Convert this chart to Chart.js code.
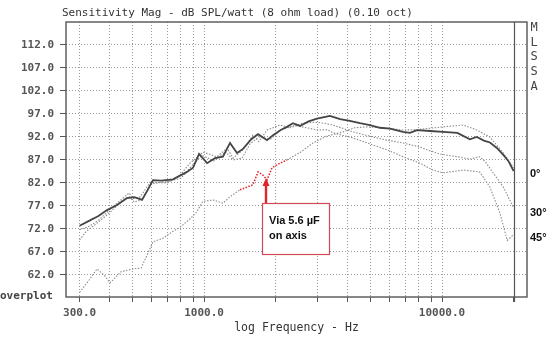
<!DOCTYPE html>
<html>
<head>
<meta charset="utf-8">
<title>Sensitivity Mag</title>
<script src="https://cdn.jsdelivr.net/npm/chart.js@4.4.1/dist/chart.umd.min.js"></script>
<style>
  html, body { margin: 0; padding: 0; background: #fff; }
  #wrap { width: 557px; height: 338px; position: relative; }
</style>
</head>
<body>
<div id="wrap"><canvas id="splChart"></canvas></div>
<script>
// AXES
const gridHz = [300, 400, 500, 600, 700, 800, 900, 1000, 2000, 3000, 4000, 5000,
                6000, 7000, 8000, 9000, 10000, 20000];
const labelHz = [300, 1000, 10000];
const dbTicks = [62, 67, 72, 77, 82, 87, 92, 97, 102, 107, 112];

// 0 deg, on axis (solid)
const axisHz = [300, 330, 360, 391, 431, 475, 510, 549, 580, 610, 660, 741, 848, 899, 953,
                1030, 1112, 1201, 1286, 1376, 1458, 1580, 1686, 1840, 1950, 2100, 2230, 2365,
                2530, 2750, 2985, 3380, 3730, 4100, 4520, 4980, 5490, 6050, 6850, 7330, 7850,
                8930, 10100, 11600, 13100, 14000, 15000, 15900, 17000, 18100, 19000, 20000];
const axisDb = [72.7, 73.8, 74.8, 76.1, 77.2, 78.7, 78.9, 78.3, 80.5, 82.6, 82.5, 82.8, 84.4, 85.3, 88.3,
                86.3, 87.4, 87.7, 90.7, 88.5, 89.4, 91.5, 92.6, 91.3, 92.4, 93.5, 94.2, 95.0,
                94.4, 95.4, 96.0, 96.6, 95.9, 95.5, 95.0, 94.6, 94.0, 93.8, 93.1, 92.9, 93.5,
                93.3, 93.1, 92.9, 91.5, 92.0, 91.2, 90.8, 89.6, 88.1, 86.8, 84.6];

// 30 deg off axis
const off30Hz = [300, 330, 362, 400, 440, 484, 505, 540, 594, 700, 793, 873, 990, 1134, 1250,
                 1324, 1458, 1605, 1700, 1840, 2086, 2300, 2600, 2900, 3200, 3480, 4230, 5130,
                 5880, 6860, 8080, 8650, 9800, 11600, 13100, 14400, 15200, 16400, 18100, 20000];
const off30Db = [71.8, 72.6, 74.0, 76.1, 78.0, 79.8, 78.6, 79.0, 82.2, 82.0, 83.7, 86.3, 88.7, 87.7, 89.6,
                 87.4, 89.2, 92.4, 91.0, 93.5, 94.6, 94.0, 95.0, 95.2, 95.0, 94.6, 93.1, 92.0,
                 91.3, 90.7, 89.8, 89.2, 88.3, 87.7, 87.2, 87.7, 86.6, 84.2, 81.1, 76.6];

// 45 deg off axis
const off45Hz = [300, 320, 350, 380, 420, 460, 484, 510, 550, 600, 700, 800, 880, 980, 1100,
                 1230, 1324, 1445, 1560, 1700, 1900, 2100, 2400, 2700, 3000, 3300, 3480, 4230,
                 4840, 5880, 6860, 8080, 9150, 10100, 10800, 12300, 14400, 15900, 17500, 18800, 20000];
const off45Db = [69.6, 71.5, 73.0, 74.5, 76.5, 78.5, 79.0, 77.8, 78.5, 81.8, 82.3, 83.0, 85.5, 88.0, 86.8,
                 88.8, 87.0, 87.4, 90.5, 92.0, 91.5, 93.5, 94.5, 94.0, 93.5, 93.6, 92.9, 91.8,
                 90.7, 89.2, 87.7, 86.3, 84.8, 84.2, 84.4, 84.8, 84.4, 81.1, 75.5, 69.5, 70.8];

// on axis through the 5.6 uF series cap
const capHz = [300, 330, 355, 380, 403, 448, 503, 544, 582, 610, 673, 741, 785, 865, 925,
               990, 1091, 1202, 1286, 1416, 1500, 1605, 1686, 1760, 1840, 1930, 2086, 2230,
               2530, 2870, 3280, 3840, 4300, 4840, 5500, 6100, 6860, 7850, 8920, 10100,
               12300, 14000, 15900, 18100, 20000];
const capDb = [58.2, 61.0, 63.3, 62.0, 60.3, 62.7, 63.3, 63.5, 66.8, 69.2, 70.0, 71.5, 72.2, 74.0, 75.5,
               78.0, 78.3, 77.6, 79.0, 80.5, 81.0, 81.6, 84.4, 83.8, 82.7, 85.3, 86.3, 87.0,
               88.6, 90.7, 92.2, 93.1, 94.0, 94.2, 94.0, 93.8, 93.5, 93.6, 93.9, 94.2,
               94.6, 93.5, 92.0, 88.5, 85.3];
const capRedFrom = 1416;
const capRedTo = 2230;

const pts = (hz, db) => hz.map((f, i) => ({ x: f, y: db[i] }));

const MONO = "'DejaVu Sans Mono', 'Liberation Mono', monospace";
const SANS = "'Liberation Sans', Arial, sans-serif";
const RED = "#e0262a";
const DOT = "#8c8c8c";

// frame, side labels and the cap call-out
const decor = {
    id: "decor",
    afterDraw(chart) {
        const { ctx, chartArea: a } = chart;
        const x = chart.scales.x;
        ctx.save();

        // frame + 20 kHz line
        ctx.strokeStyle = "#555";
        ctx.lineWidth = 1.4;
        ctx.strokeRect(a.left, a.top, a.right - a.left, a.bottom - a.top);
        const x20k = Math.round(x.getPixelForValue(20000)) + 0.5;
        ctx.lineWidth = 1.2;
        ctx.beginPath();
        ctx.moveTo(x20k, a.top);
        ctx.lineTo(x20k, a.bottom + 5);
        ctx.stroke();

        // title
        ctx.fillStyle = "#333";
        ctx.font = "11px " + MONO;
        ctx.textBaseline = "middle";
        ctx.textAlign = "left";
        ctx.fillText("Sensitivity Mag - dB SPL/watt (8 ohm load) (0.10 oct)", 62, 13);

        // MLSSA down the right side
        ctx.textAlign = "center";
        ctx.font = "12px " + MONO;
        ctx.fillStyle = "#444";
        "MLSSA".split("").forEach((c, i) => ctx.fillText(c, 534, 28 + i * 14.6));

        // overplot tag
        ctx.textAlign = "left";
        ctx.font = "bold 11px " + MONO;
        ctx.fillText("overplot", 0, 296);

        // angle labels
        ctx.fillStyle = "#111";
        ctx.font = "bold 11px " + SANS;
        ctx.fillText("0°", 530, 174);
        ctx.fillText("30°", 530, 213);
        ctx.fillText("45°", 530, 238);

        // call-out box
        ctx.fillStyle = "#fff";
        ctx.fillRect(262, 203, 67, 51);
        ctx.strokeStyle = "#d24a58";
        ctx.lineWidth = 1.2;
        ctx.strokeRect(262.5, 203.5, 67, 51);
        ctx.fillStyle = "#111";
        ctx.font = "bold 11px " + SANS;
        ctx.fillText("Via 5.6 µF", 269, 221);
        ctx.fillText("on axis", 269, 236);

        // arrow up to the cap curve
        ctx.strokeStyle = RED;
        ctx.fillStyle = RED;
        ctx.lineWidth = 2.4;
        ctx.beginPath();
        ctx.moveTo(266, 203);
        ctx.lineTo(266, 185);
        ctx.stroke();
        ctx.beginPath();
        ctx.moveTo(266, 178);
        ctx.lineTo(262.5, 186);
        ctx.lineTo(269.5, 186);
        ctx.closePath();
        ctx.fill();

        ctx.restore();
    }
};

const ctx = document.getElementById("splChart").getContext("2d");
new Chart(ctx, {
    type: "line",
    data: {
        datasets: [
            {
                label: "0°",
                data: pts(axisHz, axisDb),
                borderColor: "#454545",
                borderWidth: 1.8
            },
            {
                label: "Via 5.6 µF on axis",
                data: pts(capHz, capDb),
                borderColor: DOT,
                borderWidth: 1.1,
                borderDash: [1.5, 1.5],
                segment: {
                    borderColor: c => (c.p0.parsed.x >= capRedFrom && c.p1.parsed.x <= capRedTo) ? RED : DOT,
                    borderWidth: c => (c.p0.parsed.x >= capRedFrom && c.p1.parsed.x <= capRedTo) ? 1.6 : 1.1
                }
            },
            {
                label: "30°",
                data: pts(off30Hz, off30Db),
                borderColor: DOT,
                borderWidth: 1.1,
                borderDash: [1.5, 1.5]
            },
            {
                label: "45°",
                data: pts(off45Hz, off45Db),
                borderColor: DOT,
                borderWidth: 1.1,
                borderDash: [1.5, 1.5]
            }
        ]
    },
    options: {
        responsive: true,
        maintainAspectRatio: false,
        animation: false,
        events: [],
        elements: {
            point: { radius: 0 },
            line: { tension: 0 }
        },
        layout: {
            padding: { top: 22, right: 30, left: 0, bottom: 0 }
        },
        plugins: {
            legend: { display: false },
            tooltip: { enabled: false }
        },
        scales: {
            x: {
                type: "logarithmic",
                min: 263,
                max: 22760,
                afterBuildTicks: s => { s.ticks = gridHz.map(v => ({ value: v })); },
                afterFit: s => { s.height = 41; },
                grid: {
                    color: c => (c.tick && c.tick.value === 20000) ? "rgba(0,0,0,0)" : "#9a9a9a",
                    tickColor: "#555",
                    tickLength: 5,
                    lineWidth: 1
                },
                border: { display: false, dash: [1, 2] },
                ticks: {
                    autoSkip: false,
                    maxRotation: 0,
                    padding: 5,
                    color: "#555",
                    font: { family: MONO, size: 11, weight: "bold" },
                    callback: v => labelHz.includes(v) ? v.toFixed(1) : ""
                },
                title: {
                    display: true,
                    text: "log Frequency - Hz",
                    color: "#333",
                    font: { family: MONO, size: 11.5 },
                    padding: { top: 0, bottom: 3 }
                }
            },
            y: {
                min: 57.2,
                max: 117,
                afterBuildTicks: s => { s.ticks = dbTicks.map(v => ({ value: v })); },
                afterFit: s => { s.width = 66; },
                grid: {
                    color: "#9a9a9a",
                    tickColor: "#555",
                    tickLength: 6,
                    lineWidth: 1
                },
                border: { display: false, dash: [1, 2] },
                ticks: {
                    padding: 6,
                    color: "#555",
                    font: { family: MONO, size: 11, weight: "bold" },
                    callback: v => v.toFixed(1)
                }
            }
        }
    },
    plugins: [decor]
});
</script>
</body>
</html>
